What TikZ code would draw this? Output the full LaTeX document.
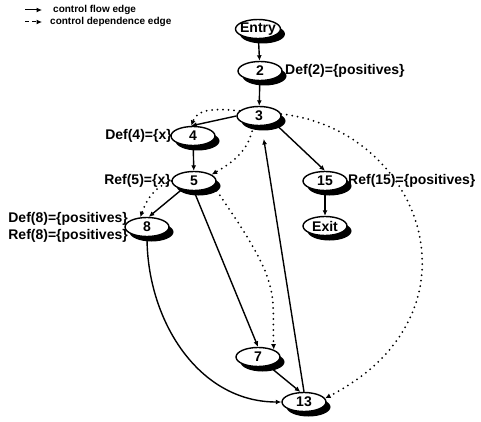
\documentclass[tikz,border=0pt]{standalone}
\usepackage{fontspec}
\setmainfont{Liberation Sans}
\usetikzlibrary{shapes.geometric,shadows,arrows.meta,backgrounds}
\begin{document}
\begin{tikzpicture}[x=1pt,y=1pt,
    blob/.style={ellipse,draw,fill=white,line width=1.4pt,minimum width=44pt,
      minimum height=19pt,inner sep=0pt,inner xsep=-2pt,
      font=\fontsize{14}{16}\selectfont\bfseries,
      drop shadow={shadow xshift=4.5pt,shadow yshift=-5pt,fill=black,opacity=1}},
    lab/.style={inner sep=0pt,font=\fontsize{14}{17}\selectfont\bfseries},
    key/.style={inner sep=0pt,font=\fontsize{10}{12}\selectfont\bfseries},
    flow/.style={-{Latex[length=5.5pt,width=5pt]},line width=1.4pt},
    dep/.style={flow,line width=2pt,dash pattern=on 0pt off 5.5pt,line cap=round}]
      \useasboundingbox (0,0) rectangle (481,-422);
      % legend
      \coordinate (k1a) at (25,-10);
      \coordinate (k1b) at (42,-10);
      \coordinate (k2a) at (25,-22);
      \coordinate (k2b) at (42,-22);
      \node[key,anchor=west] (k1) at (53,-10) {control flow edge};
      \node[key,anchor=west] (k2) at (50,-22) {control dependence edge};
      \draw[flow,line width=1pt] (k1a) -- (k1b);
      \draw[flow,line width=1pt,dash pattern=on 4pt off 3pt] (k2a) -- (k2b);
      % nodes
      \draw
        (258,-29) node[blob] (entry){Entry}
        (260,-71) node[blob] (n2){2}
        (259,-116) node[blob] (n3){3}
        (193,-136) node[blob] (n4){4}
        (194,-181) node[blob] (n5){5}
        (325,-181) node[blob] (n15){15}
        (325,-226) node[blob] (exit){Exit}
        (147,-227) node[blob] (n8){8}
        (258,-357) node[blob] (n7){7}
        (304,-402) node[blob] (n13){13};
      % labels
      \draw
        (285,-71) node[lab,anchor=west] (d2){Def(2)=\{positives\}}
        (172,-136) node[lab,anchor=east] (d4){Def(4)=\{x\}}
        (171,-181) node[lab,anchor=east] (r5){Ref(5)=\{x\}}
        (348,-181) node[lab,anchor=west] (r15){Ref(15)=\{positives\}}
        (128,-227) node[lab,anchor=east,align=right] (dr8){Def(8)=\{positives\}\\Ref(8)=\{positives\}};
      % control flow edges
      \begin{scope}[on background layer]
        \draw[flow] (entry) to (n2);
        \draw[flow] (n2) to (n3);
        \draw[flow] (n3.west) to (n4.100);
        \draw[flow] (n4) to (n5);
        \draw[flow] (n5.215) to (n8.80);
        \draw[flow] (n5.south) to (n7.north);
        \draw[flow] (n3.-25) to (n15.north);
        \draw[flow] (n15) to (exit);
        \draw[flow] (n8.south) to[out=-90,in=180] (n13.west);
        \draw[flow] (n7.-40) to (n13.110);
        \draw[flow,shorten >=13pt] (n13.north) to (n3.-75);
      \end{scope}
      % control dependence edges
      \begin{scope}[on background layer]
        \draw[dep] (n3.165) to[out=175,in=70] (n4.100);
        \draw[dep] (n3.-120) to[out=-100,in=30] (n5.20);
        \draw[dep] (n3.5) .. controls +(140,-15) and +(165,85) .. (n13.10);
        \draw[dep] (n5.west) to[out=200,in=70] (n8.125);
        \draw[dep] (n5.-15) .. controls +(70,-100) and +(-2,60) .. (n7.25);
      \end{scope}
    \end{tikzpicture}
\end{document}
